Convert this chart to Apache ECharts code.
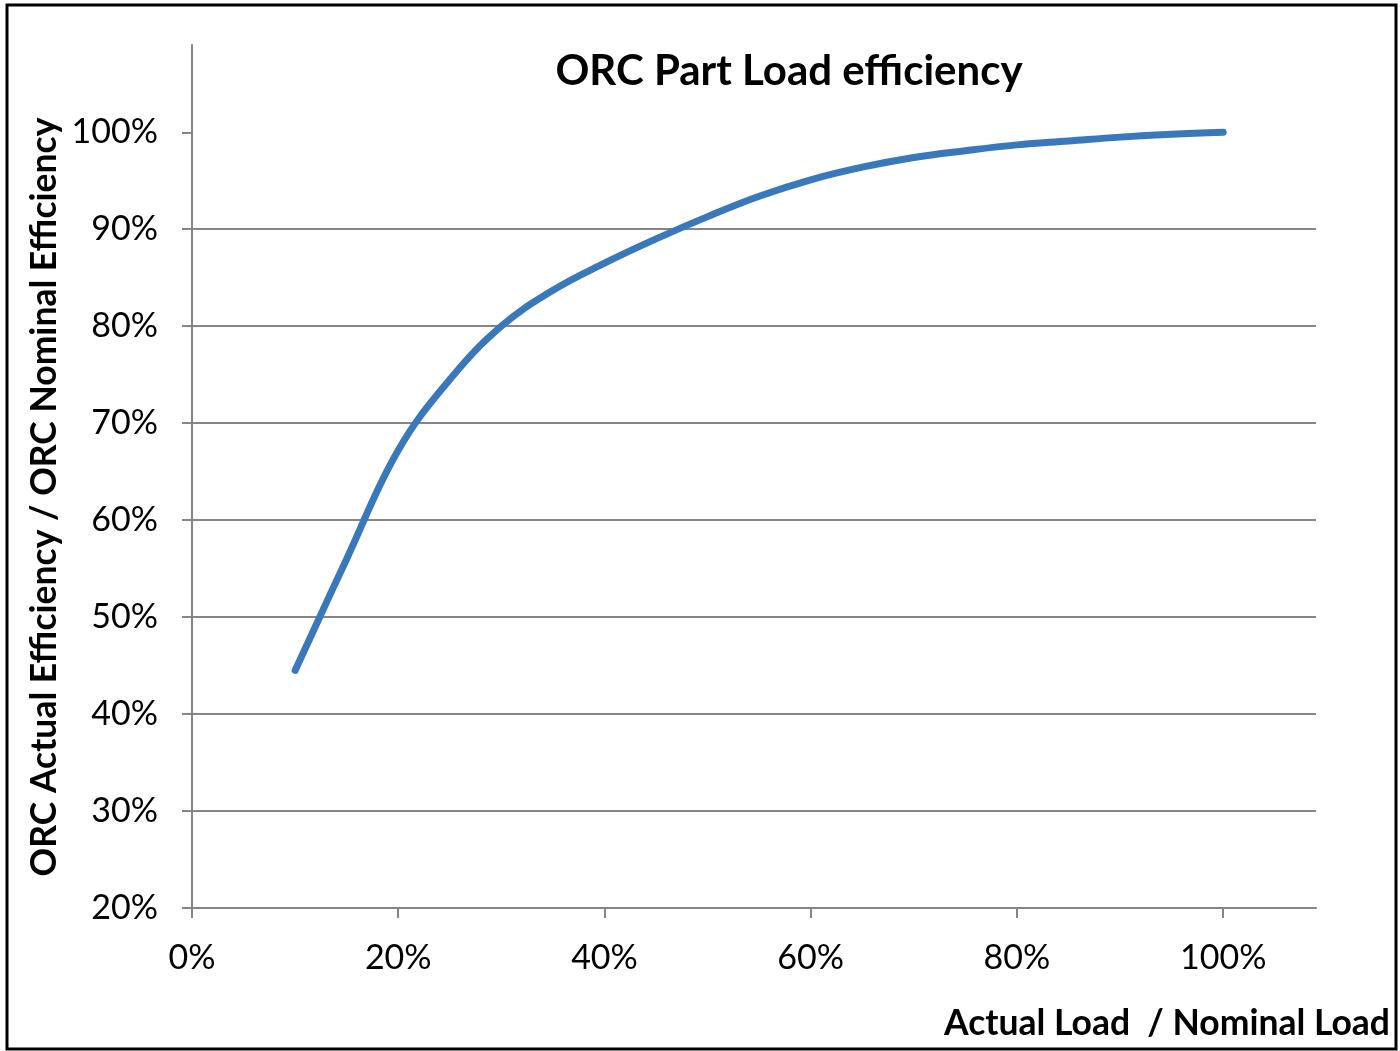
<!DOCTYPE html>
<html>
<head>
<meta charset="utf-8">
<script src="https://cdn.jsdelivr.net/npm/echarts@6/dist/echarts.min.js"></script>
<style>
html,body{margin:0;padding:0;background:#fff;}
#chart{width:1400px;height:1051px;}
</style>
</head>
<body>
<div id="chart"></div>
<script>
const titleText = 'ORC Part Load efficiency';
const xAxisTitle = 'Actual Load  / Nominal Load';
const yAxisTitle = 'ORC Actual Efficiency / ORC Nominal Efficiency';
const xTicks = [0, 0.2, 0.4, 0.6, 0.8, 1.0];
const yTicks = [0.2, 0.3, 0.4, 0.5, 0.6, 0.7, 0.8, 0.9, 1.0];
const loadRatio = [0.10, 0.15, 0.20, 0.25, 0.30, 0.35, 0.40, 0.45, 0.50, 0.55, 0.60, 0.65, 0.70, 0.75, 0.80, 0.85, 0.90, 0.95, 1.00];
const effRatio  = [0.445, 0.560, 0.672, 0.745, 0.800, 0.837, 0.865, 0.890, 0.913, 0.934, 0.951, 0.964, 0.974, 0.981, 0.987, 0.991, 0.995, 0.998, 1.000];

const FONT = 'Lato';
const grey = '#868686';
const chart = echarts.init(document.getElementById('chart'));
const pct = v => Math.round(v * 100) + '%';
chart.setOption({
  animation: false,
  backgroundColor: '#fff',
  title: {
    text: titleText, left: 784, top: 45, textAlign: 'center',
    textStyle: {fontFamily: FONT, fontWeight: 'bold', fontSize: 42, color: '#000'}
  },
  grid: {left: 192, right: 84, top: 45, bottom: 143, containLabel: false},
  xAxis: {
    type: 'value', min: 0, max: 1.09, interval: 0.2,
    axisLine: {show: true, lineStyle: {color: grey, width: 2}},
    axisTick: {show: true, length: 10, lineStyle: {color: grey, width: 2}, customValues: xTicks},
    axisLabel: {customValues: xTicks, formatter: pct, fontFamily: FONT, fontSize: 34, color: '#000', margin: 33},
    splitLine: {show: false}
  },
  yAxis: {
    type: 'value', min: 0.2, max: 1.09, interval: 0.1,
    axisLine: {show: true, lineStyle: {color: grey, width: 2}},
    axisTick: {show: true, length: 10, lineStyle: {color: grey, width: 2}, customValues: yTicks},
    axisLabel: {customValues: yTicks, formatter: pct, fontFamily: FONT, fontSize: 34, color: '#000', margin: 34},
    splitLine: {show: true, showMaxLine: false, lineStyle: {color: grey, width: 2}}
  },
  series: [{
    type: 'line',
    data: loadRatio.map((x, i) => [x, effRatio[i]]),
    smooth: 0.4,
    showSymbol: false,
    lineStyle: {color: '#3a78bc', width: 7, cap: 'round', join: 'round'}
  }],
  graphic: [
    {type: 'rect', shape: {x: 7, y: 5, width: 1389, height: 1044}, style: {fill: 'none', stroke: '#000', lineWidth: 3}, z: 100},
    {type: 'text', x: 45, y: 497, rotation: Math.PI / 2,
      style: {text: yAxisTitle, fontFamily: FONT, fontWeight: 'bold', fontSize: 35.5, fill: '#000', align: 'center', verticalAlign: 'middle'}},
    {type: 'text', x: 1390, y: 1024,
      style: {text: xAxisTitle, fontFamily: FONT, fontWeight: 'bold', fontSize: 35.5, fill: '#000', align: 'right', verticalAlign: 'middle'}}
  ]
});
</script>
</body>
</html>
